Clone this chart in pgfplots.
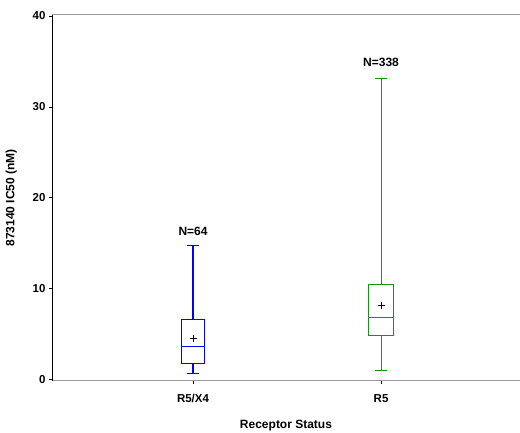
\documentclass[border=0pt]{standalone}
\usepackage{pgfplots}
\pgfplotsset{compat=1.18}
\usepgfplotslibrary{statistics}
\usepackage{fontspec}
\setmainfont{Liberation Sans}
\definecolor{bxblue}{RGB}{0,0,255}
\definecolor{bxgreen}{RGB}{20,150,20}
\begin{document}
\begin{tikzpicture}
\path[use as bounding box] (-52pt,-51.3pt) rectangle (468pt,380.7pt);
\begin{axis}[
  at={(0pt,0pt)}, anchor=south west,
  scale only axis, width=468pt, height=365.7pt,
  xmin=0.25, xmax=2.739, ymin=-0.13, ymax=40.11,
  axis lines*=left,
  x axis line style={draw=gray!80, line width=1pt, -},
  y axis line style={draw=black, line width=0.8pt, -},
  xtick={1,2}, xticklabels={R5/X4,R5},
  ytick={0,10,20,30,40},
  tick align=outside, major tick length=3pt,
  tick style={black, line width=0.6pt},
  /pgf/number format/assume math mode=true,
  tick label style={font=\bfseries\fontsize{11.5}{13}\selectfont},
  xticklabel style={yshift=-7pt},
  label style={font=\bfseries\fontsize{12}{14}\selectfont},
  xlabel={Receptor Status},
  ylabel={873140 IC50 (nM)},
  xlabel style={yshift=-10pt},
  ylabel style={yshift=9pt},
  clip=false,
]
% boxes
\addplot[bxblue, line width=1pt, boxplot/draw direction=y, boxplot prepared={
  draw position=1, lower whisker=0.71, lower quartile=1.78, median=3.65,
  upper quartile=6.62, upper whisker=14.76, box extend=0.125, whisker extend=0.06}]
  table[row sep=\\, y index=0] {\\};
\addplot[bxgreen, line width=1pt, boxplot/draw direction=y, boxplot prepared={
  draw position=2, lower whisker=0.94, lower quartile=4.82, median=6.87,
  upper quartile=10.47, upper whisker=33.17, box extend=0.13, whisker extend=0.064}]
  table[row sep=\\, y index=0] {\\};
% means
\addplot[only marks, mark=+, mark size=3.5pt, mark options={draw=black, line width=0.6pt}, draw=none]
  coordinates {(1,4.53)};
\addplot[only marks, mark=+, mark size=3.5pt, mark options={draw=black, line width=0.6pt}, draw=none]
  coordinates {(2,8.16)};
\node[font=\bfseries\fontsize{12}{14}\selectfont] at (axis cs:1,16.34) {N=64};
\node[font=\bfseries\fontsize{12}{14}\selectfont] at (axis cs:2,34.94) {N=338};
\draw[gray!80, line width=1pt] (rel axis cs:0,1) -- (rel axis cs:1,1);
% whisker stems on top
\addplot[draw=bxblue, line width=1.1pt, no marks] coordinates {(1,6.62) (1,14.76)};
\addplot[draw=bxblue, line width=1.1pt, no marks] coordinates {(1,0.71) (1,1.78)};
\addplot[draw=bxgreen, line width=1.1pt, no marks] coordinates {(2,10.47) (2,33.17)};
\addplot[draw=bxgreen, line width=1.1pt, no marks] coordinates {(2,0.94) (2,4.82)};
\end{axis}
\end{tikzpicture}
\end{document}
